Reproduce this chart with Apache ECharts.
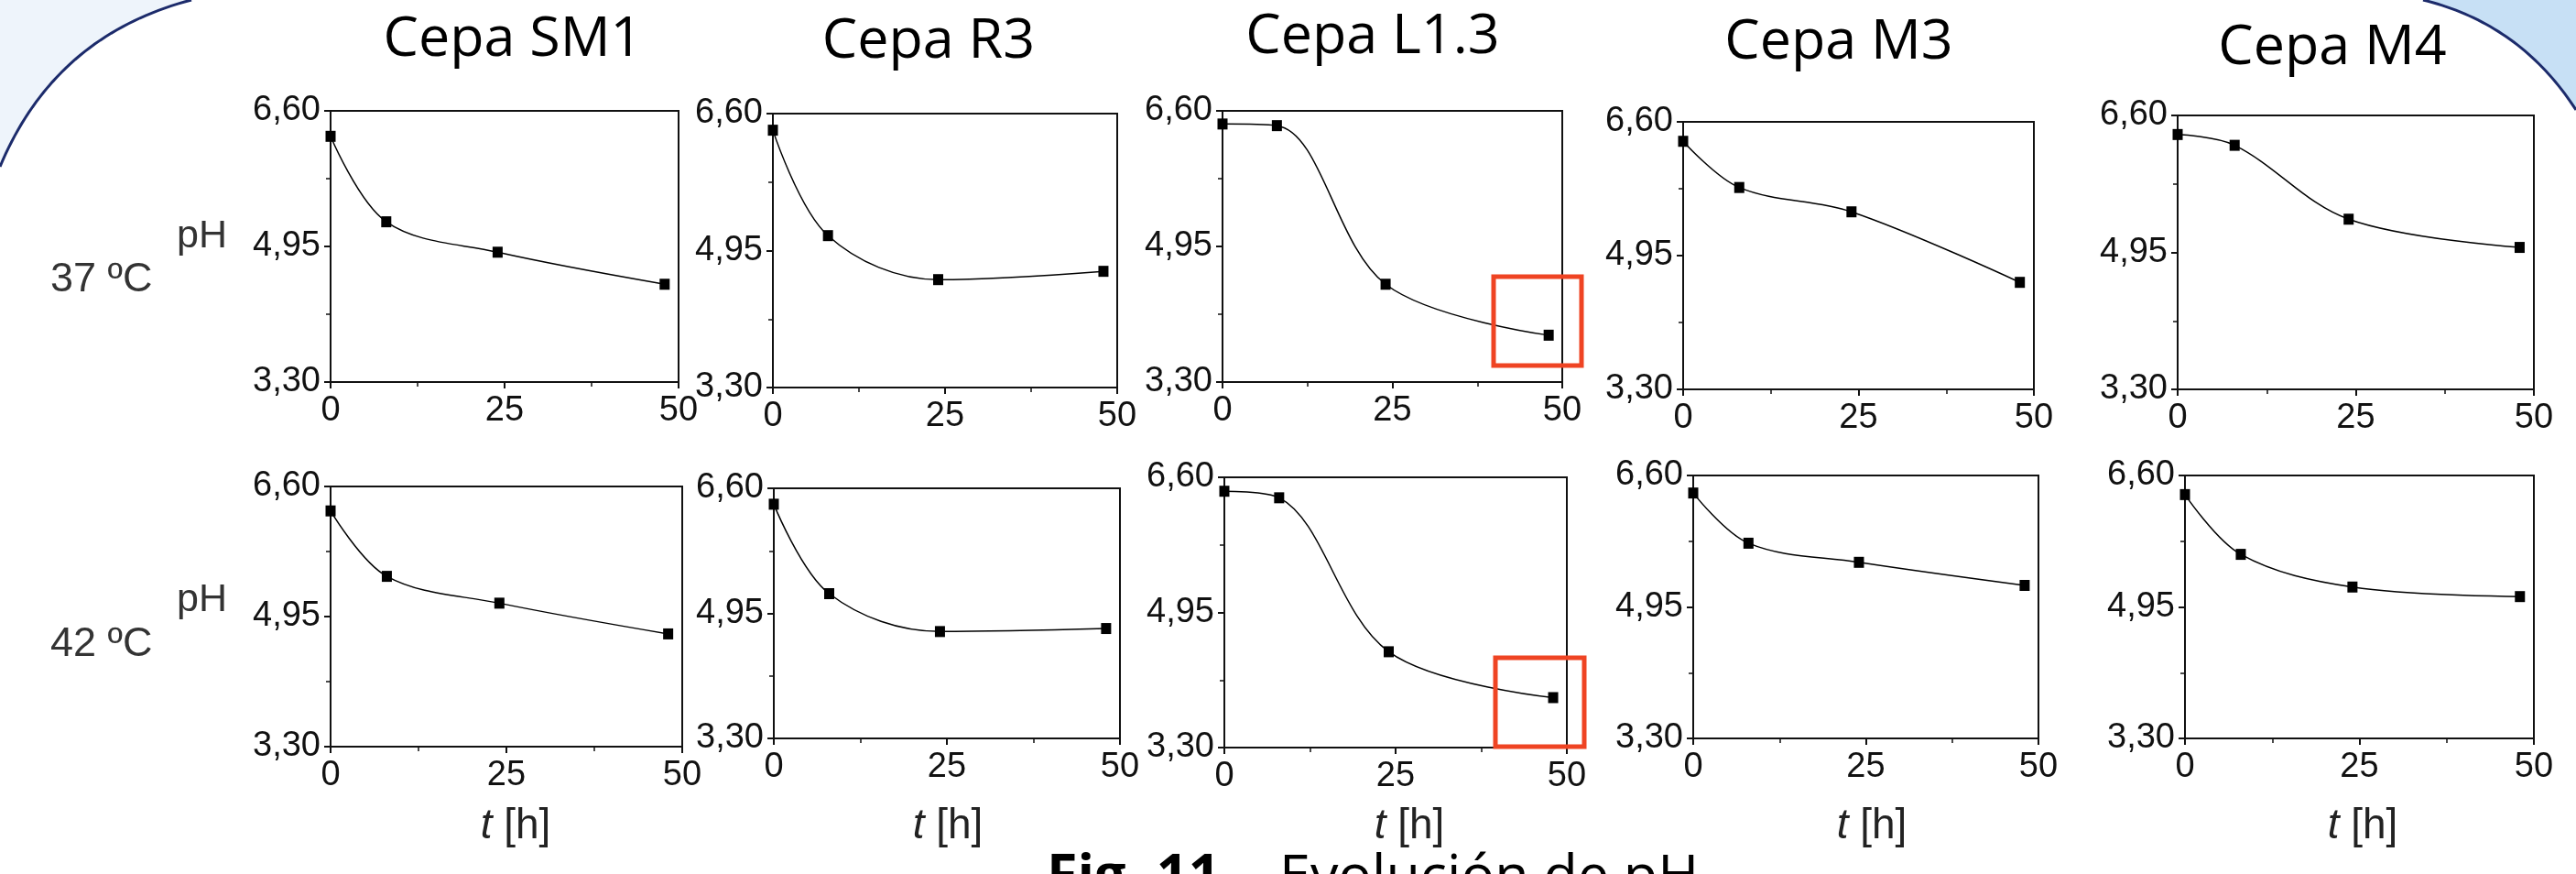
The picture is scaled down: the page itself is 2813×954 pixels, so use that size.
<!DOCTYPE html>
<html>
<head>
<meta charset="utf-8">
<script src="https://cdn.jsdelivr.net/npm/echarts@6/dist/echarts.min.js"></script>
<style>
    html, body { margin: 0; padding: 0; background: #fff; }
    #chart { width: 2813px; height: 954px; }
</style>
</head>
<body>
<div id="chart"></div>
<script>
// sampling times (h)
const hours = [0, 8, 24, 48];
const strains = ['Cepa SM1', 'Cepa R3', 'Cepa L1.3', 'Cepa M3', 'Cepa M4'];
const temps = ['37 ºC', '42 ºC'];

// pH at 37 ºC
const ph37SM1 = [6.29, 5.25, 4.88, 4.49];
const ph37R3 = [6.40, 5.13, 4.60, 4.70];
const ph37L13 = [6.44, 6.42, 4.49, 3.87];
const ph37M3 = [6.36, 5.79, 5.49, 4.62];
const ph37M4 = [6.37, 6.24, 5.35, 5.01];

// pH at 42 ºC
const ph42SM1 = [6.29, 5.46, 5.12, 4.73];
const ph42R3 = [6.39, 5.21, 4.71, 4.75];
const ph42L13 = [6.43, 6.35, 4.47, 3.91];
const ph42M3 = [6.38, 5.75, 5.51, 5.22];
const ph42M4 = [6.36, 5.61, 5.20, 5.08];

const phTicks = [3.30, 4.95, 6.60];
const hourTicks = [0, 25, 50];

const panels = [ph37SM1, ph37R3, ph37L13, ph37M3, ph37M4, ph42SM1, ph42R3, ph42L13, ph42M3, ph42M4];

// plot boxes [left, top, width, height]
const boxes = [
    [361, 121, 380, 296], [844, 124, 376, 299], [1335, 121, 371, 296], [1838, 133, 383, 292], [2378, 126, 389, 299],
    [361, 531, 384, 284], [845, 533, 378, 273], [1337, 521, 374, 295], [1849, 519, 377, 287], [2386, 519, 381, 287],
];
const titlePos = [[560, 44], [1014, 46], [1499, 41], [2008, 47], [2547, 53]];
const timeLabelX = [563, 1035, 1539, 2044, 2580];

const ink = '#111';
const tickFont = { fontFamily: 'Liberation Sans', fontSize: 38, color: ink };

const grid = boxes.map(([left, top, width, height]) => ({
    left, top, width, height,
    show: true,
    borderColor: ink,
    borderWidth: 2,
    backgroundColor: 'transparent',
}));

const xAxis = boxes.map((b, i) => ({
    type: 'value',
    gridIndex: i,
    min: hourTicks[0],
    max: hourTicks[2],
    interval: hourTicks[1] - hourTicks[0],
    axisLine: { show: true, onZero: false, lineStyle: { color: ink, width: 2 } },
    axisTick: { show: true, length: 7, lineStyle: { color: ink, width: 2 } },
    minorTick: { show: true, splitNumber: 2, length: 5, lineStyle: { color: ink, width: 1.5 } },
    splitLine: { show: false },
    axisLabel: { ...tickFont, margin: 13, showMinLabel: true, showMaxLabel: true },
}));

const yAxis = boxes.map((b, i) => ({
    type: 'value',
    gridIndex: i,
    min: phTicks[0],
    max: phTicks[2],
    interval: +(phTicks[1] - phTicks[0]).toFixed(2),
    axisLine: { show: true, onZero: false, lineStyle: { color: ink, width: 2 } },
    axisTick: { show: true, length: 7, lineStyle: { color: ink, width: 2 } },
    minorTick: { show: true, splitNumber: 2, length: 5, lineStyle: { color: ink, width: 1.5 } },
    splitLine: { show: false },
    axisLabel: {
        ...tickFont,
        margin: 11,
        showMinLabel: true,
        showMaxLabel: true,
        formatter: (v) => v.toFixed(2).replace('.', ','),
    },
}));

const series = panels.map((vals, i) => ({
    type: 'line',
    xAxisIndex: i,
    yAxisIndex: i,
    data: hours.map((h, j) => [h, vals[j]]),
    smooth: 0.35,
    symbol: 'rect',
    symbolSize: [11, 12],
    itemStyle: { color: '#000' },
    lineStyle: { color: '#000', width: 1.5 },
    silent: true,
}));

// points along a quadratic curve, for the slide background corners
const quad = (p0, c, p1, n) => {
    const pts = [];
    for (let k = 0; k <= n; k++) {
        const t = k / n;
        const a = (1 - t) * (1 - t), b = 2 * t * (1 - t), d = t * t;
        pts.push([a * p0[0] + b * c[0] + d * p1[0], a * p0[1] + b * c[1] + d * p1[1]]);
    }
    return pts;
};
const leftArc = quad([209, 0], [59.5, 39], [0, 182], 40);
const rightArc = quad([2646, 0], [2752.5, 26], [2813, 120], 40);

const graphic = [
    { type: 'polygon', z: 0, shape: { points: [[0, 0], ...leftArc] }, style: { fill: '#eef4fb' } },
    { type: 'polyline', z: 1, shape: { points: leftArc }, style: { fill: null, stroke: '#1c2b6b', lineWidth: 3 } },
    { type: 'polygon', z: 0, shape: { points: [...rightArc, [2813, 0]] }, style: { fill: '#c7e0f5' } },
    { type: 'polyline', z: 1, shape: { points: rightArc }, style: { fill: null, stroke: '#1c2b6b', lineWidth: 3 } },
];

strains.forEach((name, i) => {
    graphic.push({
        type: 'text', z: 5,
        x: titlePos[i][0], y: titlePos[i][1],
        style: {
            text: name, fill: '#000',
            font: '61px "Open Sans"',
            textAlign: 'center', textVerticalAlign: 'middle',
        },
    });
});

// row labels
[[306, 258], [704, 655]].forEach(([ty, py], r) => {
    graphic.push({
        type: 'text', z: 5, x: 55, y: ty,
        style: { text: temps[r], fill: '#333', font: '45px "Liberation Sans"', textVerticalAlign: 'middle' },
    });
    graphic.push({
        type: 'text', z: 5, x: 193, y: py,
        style: { text: 'pH', fill: '#333', font: '43px "Liberation Sans"', textVerticalAlign: 'middle' },
    });
});

// time axis titles under the bottom row
timeLabelX.forEach((x) => {
    graphic.push({
        type: 'text', z: 5, x, y: 902,
        style: {
            text: '{i|t} [h]',
            fill: '#222',
            font: '46px "Liberation Sans"',
            textAlign: 'center', textVerticalAlign: 'middle',
            rich: { i: { fontStyle: 'italic', fontFamily: 'Liberation Sans', fontSize: 46, fill: '#222' } },
        },
    });
});

// highlight of the last L1.3 points
[[1631, 302, 96, 97], [1633, 718, 97, 97]].forEach(([x, y, w, h]) => {
    graphic.push({
        type: 'rect', z: 10,
        shape: { x, y, width: w, height: h },
        style: { fill: null, stroke: '#ef4423', lineWidth: 5 },
    });
});

// caption (cut by the bottom edge)
graphic.push({
    type: 'text', z: 5, x: 1143, y: 959,
    style: { text: 'Fig. 11.-', fill: '#000', font: 'bold 61px "Open Sans"', textVerticalAlign: 'middle' },
});
graphic.push({
    type: 'text', z: 5, x: 1397, y: 959,
    style: { text: 'Evolución de pH', fill: '#000', font: '61px "Open Sans"', textVerticalAlign: 'middle' },
});

const chart = echarts.init(document.getElementById('chart'));
chart.setOption({
    animation: false,
    backgroundColor: '#fff',
    grid,
    xAxis,
    yAxis,
    series,
    graphic,
});
</script>
</body>
</html>
